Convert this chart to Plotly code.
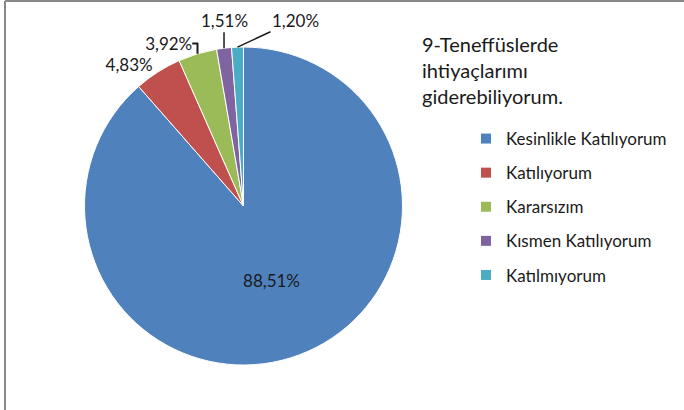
import math
import plotly.graph_objects as go

labels = ["Kesinlikle Katılıyorum", "Katılıyorum", "Kararsızım", "Kısmen Katılıyorum", "Katılmıyorum"]
values = [88.51, 4.83, 3.92, 1.51, 1.20]
colors = ["#4F81BD", "#C0504D", "#9BBB59", "#8064A2", "#4BACC6"]
title_text = "9-Teneffüslerde<br>ihtiyaçlarımı<br>giderebiliyorum."

W, H = 684, 410
FONT = "Lato"
TXT = "#1a1a1a"
CX, CY, R = 243.5, 206, 159  # pie centre / radius in pixels

fig = go.Figure()
fig.add_trace(go.Pie(
    labels=labels, values=values, sort=False, direction="clockwise", rotation=0,
    marker=dict(colors=colors, line=dict(color="white", width=1)),
    texttemplate=["%{value:.2f}%"] * 3 + ["", ""],
    textposition=["inside", "outside", "outside", "none", "none"],
    textfont=dict(family=FONT, size=17, color=TXT),
    insidetextorientation="horizontal",
    showlegend=False, hoverinfo="label+percent", automargin=False,
    domain=dict(x=[(CX - R) / W, (CX + R) / W], y=[1 - (CY + R) / H, 1 - (CY - R) / H]),
))

for lab, col in zip(labels, colors):
    fig.add_trace(go.Scatter(
        x=[None], y=[None], mode="markers", name=lab, legendgroup=lab,
        marker=dict(symbol="square", size=10, color=col),
    ))

# labels for the two thinnest slices, anchored on their own arcs (angles derived from the data)
total = sum(values)
leader_offsets = {3: (0, -28), 4: (58, -27)}
slice_labels = []
for i, (ax, ay) in leader_offsets.items():
    mid = (sum(values[:i]) + values[i] / 2) / total * 2 * math.pi
    px = CX + R * math.sin(mid)
    py = CY - R * math.cos(mid)
    slice_labels.append(dict(
        text=f"{values[i]:.2f}".replace(".", ",") + "%",
        x=px / W, y=1 - py / H, xref="paper", yref="paper",
        showarrow=True, arrowhead=0, arrowwidth=1.5, arrowcolor=TXT,
        ax=ax, ay=ay, standoff=0,
        font=dict(family=FONT, size=17, color=TXT)))

fig.update_layout(
    width=W, height=H, margin=dict(l=0, r=0, t=0, b=0, pad=0, autoexpand=False),
    paper_bgcolor="white", plot_bgcolor="white",
    separators=",.",
    font=dict(family=FONT, color=TXT),
    xaxis=dict(visible=False), yaxis=dict(visible=False),
    legend=dict(x=466 / W, y=1 - 121 / H, xanchor="left", yanchor="top",
                font=dict(family=FONT, size=17, color=TXT),
                tracegroupgap=9, bgcolor="rgba(0,0,0,0)"),
    annotations=[
        dict(text=title_text, x=420 / W, y=1 - 30 / H, xref="paper", yref="paper",
             xanchor="left", yanchor="top", align="left", showarrow=False,
             font=dict(family=FONT, size=20, color=TXT)),
    ] + slice_labels,
    shapes=[
        dict(type="line", xref="paper", yref="paper", x0=5 / W, x1=5 / W, y0=0, y1=1 - 1 / H,
             line=dict(color="#888888", width=2)),
        dict(type="line", xref="paper", yref="paper", x0=5 / W, x1=1, y0=1 - 1 / H, y1=1 - 1 / H,
             line=dict(color="#888888", width=2)),
    ],
)

fig.write_html("out.html", config={"displayModeBar": False},
               post_script="document.body.style.margin='0';")
